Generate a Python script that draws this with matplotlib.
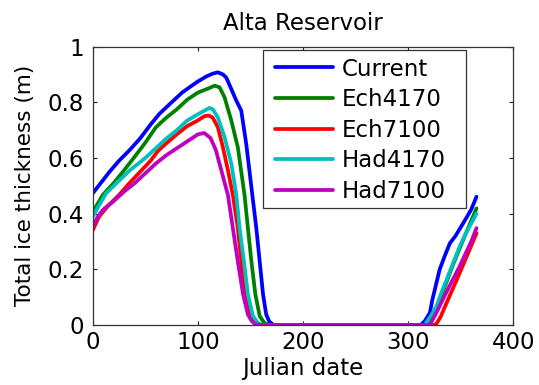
import matplotlib
matplotlib.use("Agg")
import matplotlib.pyplot as plt
from matplotlib.patches import Rectangle

# ---- data ----
labels = ["Current", "Ech4170", "Ech7100", "Had4170", "Had7100"]
colors = ["#0000ff", "#008000", "#ff0000", "#00bfbf", "#bf00bf"]

current_days = [0, 15.9, 25, 35, 45, 55, 63.5, 75, 85, 92, 100, 108, 114, 119, 124, 127, 131.8,
                136.6, 141.3, 146, 150.9, 155.6, 158.8, 162, 165, 168, 172,
                312, 316, 320.7, 323, 325.4, 330, 335, 339.7, 345, 352.4, 360, 365]
current_vals = [0.473, 0.55, 0.59, 0.628, 0.67, 0.72, 0.759, 0.80, 0.835, 0.854, 0.875, 0.893, 0.903,
                0.908, 0.90, 0.889, 0.848, 0.806, 0.77, 0.651, 0.496, 0.348, 0.229, 0.11, 0.038, 0.012, 0.0,
                0.0, 0.015, 0.044, 0.09, 0.128, 0.2, 0.25, 0.294, 0.32, 0.366, 0.415, 0.461]

ech4170_days = [0, 9.5, 20, 28.6, 40, 50, 60, 70, 80, 90, 100, 110, 116, 120.7, 125.4, 131.8, 138,
                144.4, 147.6, 150.9, 154.7, 158.8, 163, 167,
                318, 322, 327, 331, 337, 343, 349, 355, 360, 365]
ech4170_vals = [0.405, 0.467, 0.51, 0.55, 0.605, 0.655, 0.71, 0.745, 0.775, 0.81, 0.835, 0.85, 0.86,
                0.854, 0.818, 0.735, 0.639, 0.467, 0.348, 0.229, 0.11, 0.032, 0.009, 0.0,
                0.0, 0.02, 0.06, 0.10, 0.16, 0.22, 0.275, 0.33, 0.375, 0.419]

ech7100_days = [0, 6, 15, 25, 35, 45, 55, 62, 70, 80, 90, 100, 106, 110, 114, 119, 123.8, 128.6,
                133.3, 138, 141.3, 144.4, 149.2, 153, 156, 160,
                325, 327, 331, 336.6, 343, 349, 355, 360, 365]
ech7100_vals = [0.34, 0.389, 0.43, 0.467, 0.51, 0.55, 0.59, 0.625, 0.653, 0.685, 0.715, 0.735, 0.75,
                0.753, 0.746, 0.711, 0.639, 0.556, 0.467, 0.348, 0.229, 0.11, 0.032, 0.012, 0.004, 0.0,
                0.0, 0.005, 0.03, 0.08, 0.135, 0.187, 0.24, 0.285, 0.33]

had4170_days = [0, 6, 12.7, 20, 35, 50, 60, 70, 80, 90, 100, 111, 114.3, 119, 125.4, 131.8, 136.6,
                139.7, 143.8, 147.6, 152.4, 157, 162,
                316, 317.5, 322, 327, 331, 336.6, 343, 349, 355, 360, 365]
had4170_vals = [0.389, 0.43, 0.473, 0.50, 0.555, 0.60, 0.635, 0.67, 0.70, 0.735, 0.757, 0.78, 0.775,
                0.746, 0.675, 0.58, 0.467, 0.348, 0.229, 0.11, 0.032, 0.008, 0.0,
                0.0, 0.01, 0.035, 0.068, 0.11, 0.163, 0.225, 0.282, 0.33, 0.365, 0.40]

had7100_days = [0, 5, 10, 20, 30, 40, 50, 60, 70, 80, 90, 100, 106, 112, 117, 122.3, 128.6, 133.3,
                138, 143, 147.6, 151, 154, 158,
                320, 322, 327, 333, 340, 349, 355, 360, 365]
had7100_vals = [0.355, 0.39, 0.415, 0.445, 0.48, 0.51, 0.545, 0.58, 0.61, 0.635, 0.66, 0.685, 0.69,
                0.672, 0.63, 0.556, 0.467, 0.348, 0.229, 0.11, 0.038, 0.015, 0.005, 0.0,
                0.0, 0.01, 0.045, 0.092, 0.145, 0.211, 0.26, 0.30, 0.348]

series = [(current_days, current_vals), (ech4170_days, ech4170_vals), (ech7100_days, ech7100_vals),
          (had4170_days, had4170_vals), (had7100_days, had7100_vals)]

xticks = [0, 100, 200, 300, 400]
yticks = [0, 0.2, 0.4, 0.6, 0.8, 1]
ytick_labels = ["0", "0.2", "0.4", "0.6", "0.8", "1"]

# ---- plot ----
plt.rcParams['font.family'] = ['DejaVu Sans']
fs = 16.5
W, H = 539, 385

fig = plt.figure(figsize=(W / 100, H / 100), dpi=100)
ax = fig.add_axes([92.7 / W, 1 - 325.0 / H, 420.6 / W, 278.3 / H])

for (d, v), c, lab in zip(series, colors, labels):
    ax.plot(d, v, color=c, lw=2.7, label=lab, solid_joinstyle='round', solid_capstyle='round')

ax.set_xlim(0, 400)
ax.set_ylim(0, 1)
ax.set_xticks(xticks)
ax.set_xticklabels([str(t) for t in xticks])
ax.set_yticks(yticks)
ax.set_yticklabels(ytick_labels)
ax.tick_params(direction='in', top=True, right=True, length=3, width=0.8,
               labelsize=fs, colors='#222222', labelcolor='black')
ax.tick_params(axis='x', pad=4.5)
ax.tick_params(axis='y', pad=6)
for s in ax.spines.values():
    s.set_linewidth(0.9)
    s.set_color('#333333')

ax.set_title("Alta Reservoir", fontsize=fs, pad=12)
ax.set_xlabel("Julian date", fontsize=fs, labelpad=2)
ax.set_ylabel("Total ice thickness (m)", fontsize=15.5, labelpad=9)

# legend entries (frame drawn separately to match the reference box)
leg = ax.legend(loc='upper left', bbox_to_anchor=(275 / W, 1 - 57.5 / H),
                bbox_transform=fig.transFigure, borderaxespad=0, borderpad=0,
                fontsize=fs, frameon=False,
                handlelength=2.53, handletextpad=0.37, labelspacing=0.33)
fig.add_artist(Rectangle((263.3 / W, 1 - 208 / H), (466 - 263.3) / W, (208 - 50) / H,
                         transform=fig.transFigure, facecolor='white',
                         edgecolor='#333333', linewidth=0.9, zorder=2.5))
leg.set_zorder(3)
leg.remove()
fig.add_artist(leg)

fig.savefig("out.png", dpi=100)
